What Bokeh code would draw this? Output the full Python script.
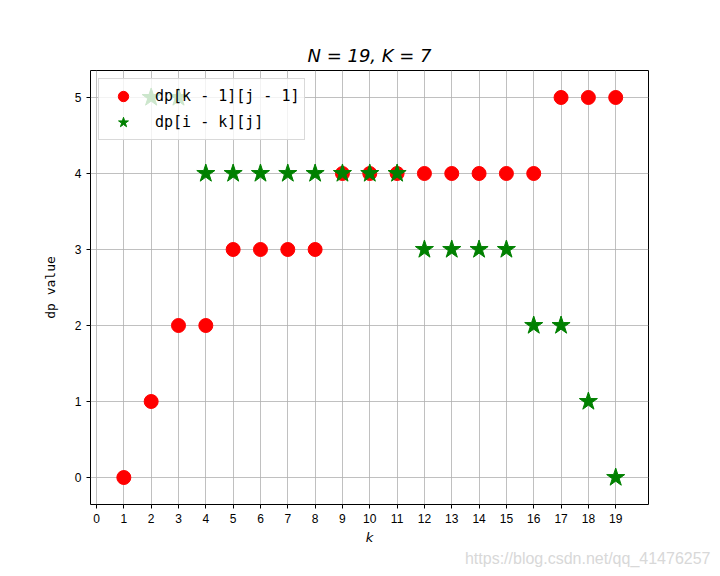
from bokeh.plotting import figure
from bokeh.models import Range1d, FixedTicker, Title, Legend, LegendItem
from bokeh.embed import file_html
from bokeh.resources import INLINE

k_red = [1, 2, 3, 4, 5, 6, 7, 8, 9, 10, 11, 12, 13, 14, 15, 16, 17, 18, 19]
v_red = [0, 1, 2, 2, 3, 3, 3, 3, 4, 4, 4, 4, 4, 4, 4, 4, 5, 5, 5]
k_green = [2, 3, 4, 5, 6, 7, 8, 9, 10, 11, 12, 13, 14, 15, 16, 17, 18, 19]
v_green = [5, 5, 4, 4, 4, 4, 4, 4, 4, 4, 3, 3, 3, 3, 2, 2, 1, 0]
x_ticks = list(range(0, 20))
y_ticks = [0, 1, 2, 3, 4, 5]

p = figure(width=720, height=576, output_backend="svg", toolbar_location=None,
           x_range=Range1d(-0.22, 20.2), y_range=Range1d(-0.355, 5.355),
           min_border_left=90, min_border_right=72, min_border_top=70, min_border_bottom=72)

p.title.text = "N = 19, K = 7"
p.title.text_font = "DejaVu Sans"
p.title.text_font_style = "italic"
p.title.text_font_size = "18px"
p.title.align = "center"
p.title.text_color = "black"

p.outline_line_color = "black"
p.outline_line_width = 1

for ax in (p.xaxis[0], p.yaxis[0]):
    ax.major_label_text_font = "Liberation Sans"
    ax.major_label_text_font_size = "12px"
    ax.major_label_text_color = "black"
    ax.axis_line_color = None
    ax.major_tick_line_color = "black"
    ax.major_tick_out = 4
    ax.major_tick_in = 0
    ax.minor_tick_line_color = None
    ax.axis_label_text_font_size = "13px"
    ax.axis_label_text_font_style = "normal"
    ax.axis_label_text_color = "black"

p.xaxis.ticker = FixedTicker(ticks=x_ticks)
p.yaxis.ticker = FixedTicker(ticks=y_ticks)
p.xaxis.axis_label = "k"
p.xaxis.axis_label_text_font = "DejaVu Sans"
p.xaxis.axis_label_text_font_style = "italic"
p.xaxis.axis_label_standoff = 4
p.yaxis.axis_label = "dp value"
p.yaxis.axis_label_text_font = "DejaVu Sans Mono"
p.yaxis.axis_label_standoff = 14

p.grid.grid_line_color = "#b0b0b0"
p.grid.grid_line_width = 0.8

r1 = p.scatter(k_red, v_red, marker="circle", size=14, fill_color="red", line_color="red")
r2 = p.scatter(k_green, v_green, marker="star", size=19, fill_color="green", line_color="green")

legend = Legend(items=[LegendItem(label="dp[k - 1][j - 1]", renderers=[r1]),
                       LegendItem(label="dp[i - k][j]", renderers=[r2])],
                location="top_left")
legend.label_text_font = "DejaVu Sans Mono"
legend.label_text_font_size = "15px"
legend.label_text_color = "black"
legend.background_fill_alpha = 0.8
legend.border_line_color = "#d0d0d0"
legend.border_line_alpha = 0.8
legend.margin = 8
legend.padding = 4
legend.spacing = 0
legend.glyph_width = 40
legend.glyph_height = 26
legend.label_standoff = 12
legend.label_height = 26
p.add_layout(legend)

wm = Title(text="https://blog.csdn.net/qq_41476257", align="right",
           text_color="#d8d8d8", text_font="Liberation Sans", text_font_size="16px",
           text_font_style="normal", offset=-62, standoff=0)
p.add_layout(wm, "below")

open("out.html", "w").write(file_html(p, INLINE))
